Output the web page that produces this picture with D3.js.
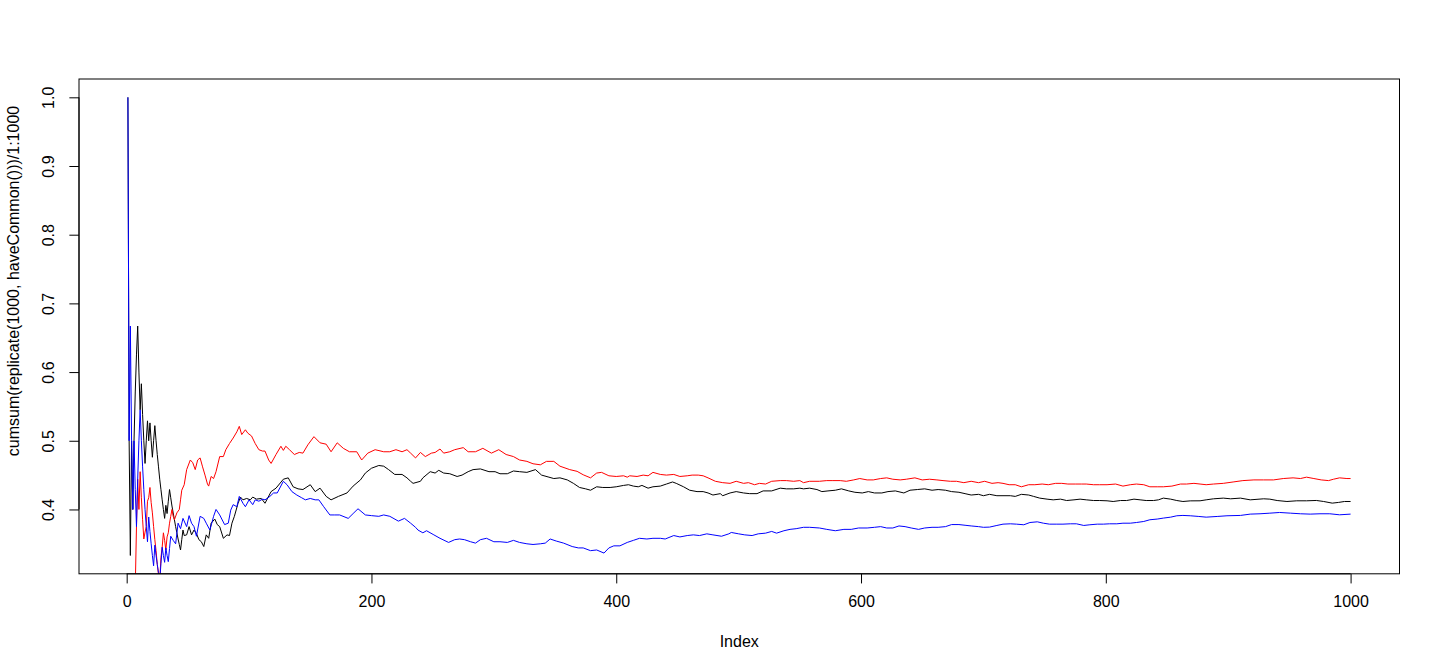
<!DOCTYPE html>
<html>
<head>
<meta charset="utf-8">
<script src="https://cdn.jsdelivr.net/npm/d3@7"></script>
<style>
  html, body { margin: 0; padding: 0; background: #ffffff; }
  svg { display: block; }
  text { font-family: "Liberation Sans", Arial, Helvetica, sans-serif; font-size: 16px; fill: #000; }
</style>
</head>
<body>
<svg id="chart" width="1440" height="672"></svg>
<script>
// ---------------- data ----------------
const xTicks = [0, 200, 400, 600, 800, 1000];
const yTicks = [0.4, 0.5, 0.6, 0.7, 0.8, 0.9, 1.0];
const xTitle = "Index";
const yTitle = "cumsum(replicate(1000, haveCommon()))/1:1000";

// [index, cumulative mean]
const seriesBlack = [
[1,1.0],[2,0.5],[3,0.333],[4,0.5],[5,0.4],[6,0.5],[7,0.571],[8,0.625],[9,0.667],[10,0.6],
[11,0.545],[12,0.583],[13,0.538],[14,0.5],[15,0.467],[16,0.5],[17,0.529],[18,0.5],[19,0.526],[20,0.5],
[21,0.476],[22,0.5],[23,0.522],[24,0.5],[25,0.48],[26,0.462],[27,0.444],[28,0.429],[29,0.414],[30,0.4],
[31,0.387],[32,0.406],[33,0.394],[34,0.412],[35,0.429],[36,0.417],[37,0.405],[38,0.395],[39,0.385],[40,0.375],
[41,0.366],[42,0.357],[43,0.349],[44,0.341],[45,0.356],[46,0.37],[47,0.362],[49,0.363],[51,0.375],[53,0.363],
[55,0.37],[57,0.365],[59,0.356],[61,0.353],[63,0.346],[65,0.363],[67,0.358],[69,0.38],[72,0.386],[74,0.378],
[76,0.375],[79,0.358],[82,0.363],[84,0.362],[86,0.38],[88,0.39],[91,0.409],[93,0.418],[95,0.414],[98,0.416],
[101,0.414],[103,0.418],[106,0.415],[110,0.416],[113,0.409],[118,0.426],[122,0.431],[128,0.444],[132,0.446],[136,0.433],
[140,0.43],[144,0.429],[150,0.436],[154,0.426],[158,0.431],[163,0.419],[167,0.414],[173,0.419],[180,0.424],[185,0.434],
[191,0.443],[195,0.453],[200,0.46],[206,0.464],[210,0.463],[214,0.458],[219,0.451],[225,0.451],[229,0.446],[232,0.441],
[234,0.438],[240,0.441],[242,0.446],[248,0.455],[252,0.453],[255,0.457],[259,0.453],[264,0.452],[270,0.448],[274,0.45],
[279,0.455],[283,0.458],[289,0.459],[296,0.455],[301,0.455],[305,0.452],[311,0.452],[316,0.456],[321,0.455],[327,0.454],
[334,0.458],[339,0.45],[345,0.447],[349,0.445],[354,0.446],[360,0.443],[365,0.438],[370,0.432],[375,0.43],[379,0.428],
[384,0.433],[389,0.432],[395,0.432],[400,0.433],[406,0.435],[410,0.436],[414,0.434],[418,0.433],[421,0.435],[426,0.431],
[430,0.433],[436,0.434],[441,0.437],[446,0.44],[449,0.438],[455,0.433],[460,0.428],[466,0.426],[471,0.426],[475,0.424],
[479,0.421],[485,0.423],[487,0.42],[493,0.424],[498,0.426],[504,0.424],[509,0.423],[515,0.423],[520,0.427],[527,0.427],
[534,0.431],[539,0.43],[545,0.43],[550,0.431],[553,0.43],[558,0.431],[564,0.429],[568,0.426],[573,0.427],[579,0.428],
[584,0.43],[590,0.427],[595,0.425],[601,0.424],[606,0.426],[611,0.424],[617,0.424],[622,0.426],[628,0.427],[635,0.424],
[640,0.428],[646,0.429],[652,0.43],[658,0.428],[663,0.429],[669,0.428],[674,0.426],[680,0.425],[685,0.423],[690,0.421],
[696,0.422],[700,0.42],[705,0.422],[711,0.42],[716,0.42],[722,0.42],[726,0.419],[731,0.422],[737,0.421],[741,0.419],
[746,0.4165],[752,0.415],[757,0.414],[763,0.415],[768,0.413],[774,0.414],[779,0.415],[784,0.414],[790,0.413],[795,0.413],
[801,0.4126],[806,0.4116],[812,0.413],[817,0.413],[823,0.415],[828,0.414],[833,0.413],[839,0.413],[843,0.414],[847,0.4165],
[853,0.415],[858,0.413],[863,0.4116],[869,0.4125],[877,0.4126],[882,0.414],[888,0.4155],[896,0.4165],[902,0.4155],[910,0.4165],
[918,0.414],[929,0.4155],[934,0.415],[940,0.413],[948,0.4116],[956,0.4126],[964,0.4126],[972,0.4131],[978,0.4116],[985,0.4092],
[990,0.4102],[995,0.4116],[1000,0.4116]
];

const seriesRed = [
[1,0],[2,0],[3,0],[4,0.25],[5,0.2],[6,0.167],[7,0.286],[8,0.375],[9,0.444],[10,0.4],
[11,0.455],[12,0.417],[13,0.385],[14,0.357],[15,0.367],[16,0.375],[17,0.412],[18,0.417],[19,0.432],[20,0.41],
[21,0.395],[22,0.375],[23,0.356],[24,0.34],[25,0.32],[26,0.305],[27,0.296],[28,0.33],[29,0.345],[30,0.366],
[31,0.355],[32,0.341],[33,0.36],[34,0.366],[35,0.38],[36,0.39],[37,0.4],[38,0.39],[39,0.385],[41,0.395],
[43,0.4],[44,0.414],[45,0.428],[47,0.436],[49,0.458],[52,0.472],[54,0.468],[56,0.458],[58,0.472],[60,0.475],
[62,0.462],[64,0.45],[66,0.437],[67,0.434],[69,0.448],[71,0.445],[73,0.455],[76,0.477],[79,0.477],[81,0.487],
[84,0.496],[87,0.504],[90,0.513],[92,0.521],[94,0.509],[97,0.516],[99,0.511],[102,0.507],[105,0.496],[108,0.487],
[111,0.485],[113,0.485],[116,0.472],[118,0.467],[122,0.48],[126,0.492],[128,0.486],[130,0.492],[133,0.487],[137,0.48],
[141,0.483],[144,0.482],[148,0.494],[153,0.506],[158,0.497],[163,0.495],[167,0.484],[172,0.497],[177,0.489],[182,0.484],
[188,0.484],[192,0.472],[197,0.482],[203,0.487],[210,0.484],[215,0.484],[220,0.487],[225,0.484],[229,0.487],[232,0.482],
[236,0.475],[240,0.483],[244,0.477],[249,0.482],[252,0.483],[256,0.488],[259,0.482],[264,0.484],[268,0.487],[275,0.49],
[279,0.484],[285,0.484],[291,0.489],[298,0.482],[304,0.487],[310,0.48],[316,0.477],[321,0.472],[327,0.47],[332,0.4665],
[338,0.465],[343,0.47],[349,0.47],[354,0.463],[362,0.458],[368,0.4555],[373,0.4505],[379,0.446],[384,0.453],[388,0.454],
[394,0.449],[400,0.448],[406,0.449],[409,0.447],[411,0.449],[417,0.448],[422,0.45],[426,0.449],[430,0.454],[436,0.451],
[441,0.45],[447,0.451],[452,0.448],[458,0.449],[462,0.45],[467,0.45],[471,0.449],[475,0.446],[481,0.441],[487,0.439],
[493,0.438],[498,0.441],[504,0.438],[508,0.439],[513,0.436],[517,0.438],[522,0.437],[527,0.441],[534,0.442],[539,0.442],
[545,0.441],[550,0.442],[553,0.439],[558,0.441],[566,0.441],[572,0.442],[577,0.442],[583,0.442],[588,0.441],[594,0.443],
[599,0.445],[605,0.443],[610,0.443],[616,0.445],[621,0.446],[626,0.444],[632,0.443],[637,0.444],[644,0.446],[650,0.443],
[656,0.444],[662,0.443],[667,0.442],[673,0.441],[678,0.441],[684,0.439],[690,0.441],[696,0.439],[701,0.441],[707,0.438],
[712,0.439],[716,0.438],[721,0.436],[726,0.436],[731,0.433],[737,0.436],[742,0.436],[748,0.437],[753,0.436],[759,0.438],
[764,0.438],[769,0.437],[775,0.437],[780,0.437],[784,0.437],[790,0.436],[795,0.436],[801,0.436],[808,0.437],[814,0.434],
[820,0.436],[825,0.437],[831,0.436],[836,0.433],[842,0.433],[847,0.433],[854,0.434],[861,0.437],[866,0.437],[872,0.438],
[877,0.437],[882,0.436],[888,0.437],[896,0.438],[904,0.44],[912,0.442],[921,0.443],[929,0.443],[937,0.443],[945,0.445],
[953,0.446],[959,0.445],[964,0.447],[970,0.445],[976,0.443],[982,0.442],[986,0.444],[991,0.446],[997,0.445],[1000,0.445]
];

const seriesBlue = [
[1,1.0],[2,0.5],[3,0.667],[4,0.5],[5,0.4],[6,0.5],[7,0.429],[8,0.375],[9,0.444],[10,0.5],
[11,0.545],[12,0.5],[13,0.462],[14,0.429],[15,0.4],[16,0.375],[17,0.353],[18,0.389],[19,0.368],[20,0.35],
[21,0.333],[22,0.318],[23,0.348],[24,0.333],[25,0.32],[26,0.308],[27,0.296],[28,0.321],[29,0.345],[30,0.333],
[31,0.323],[32,0.344],[33,0.333],[34,0.324],[35,0.343],[36,0.361],[38,0.355],[40,0.35],[42,0.38],[44,0.372],
[46,0.387],[49,0.375],[51,0.391],[53,0.38],[55,0.375],[57,0.361],[60,0.39],[63,0.387],[65,0.38],[68,0.37],
[71,0.39],[73,0.4],[76,0.392],[80,0.378],[83,0.38],[85,0.399],[87,0.407],[90,0.404],[92,0.419],[95,0.409],
[97,0.404],[100,0.414],[103,0.407],[105,0.414],[108,0.412],[111,0.415],[113,0.414],[117,0.419],[120,0.424],[123,0.424],
[128,0.441],[131,0.436],[135,0.426],[139,0.421],[143,0.417],[146,0.414],[150,0.416],[154,0.414],[157,0.414],[161,0.404],
[166,0.392],[170,0.392],[174,0.392],[181,0.387],[185,0.394],[189,0.401],[195,0.392],[200,0.391],[206,0.39],[210,0.392],
[215,0.39],[222,0.383],[227,0.387],[232,0.38],[236,0.374],[238,0.37],[242,0.366],[245,0.369],[251,0.363],[256,0.358],
[263,0.352],[268,0.356],[272,0.357],[276,0.356],[281,0.353],[285,0.351],[289,0.356],[294,0.358],[300,0.353],[305,0.353],
[311,0.352],[316,0.355],[321,0.352],[327,0.35],[332,0.349],[338,0.35],[342,0.351],[346,0.357],[351,0.354],[357,0.351],
[364,0.346],[369,0.344],[373,0.344],[379,0.34],[384,0.341],[390,0.3365],[394,0.344],[398,0.347],[403,0.347],[409,0.352],
[414,0.355],[419,0.358],[425,0.357],[430,0.358],[436,0.358],[440,0.357],[447,0.362],[452,0.36],[458,0.362],[463,0.363],
[468,0.362],[474,0.3645],[479,0.363],[486,0.361],[492,0.3645],[494,0.3665],[500,0.3645],[505,0.363],[511,0.362],[516,0.3645],
[522,0.3655],[527,0.368],[531,0.3655],[537,0.369],[542,0.371],[547,0.372],[553,0.374],[558,0.374],[566,0.373],[572,0.371],
[579,0.369],[586,0.371],[592,0.371],[598,0.373],[605,0.373],[611,0.374],[616,0.375],[621,0.373],[626,0.373],[631,0.376],
[636,0.375],[641,0.373],[647,0.371],[652,0.373],[658,0.374],[663,0.374],[669,0.375],[674,0.378],[680,0.378],[685,0.377],
[690,0.376],[696,0.375],[700,0.374],[705,0.3743],[711,0.3767],[716,0.3786],[722,0.3791],[727,0.3786],[733,0.3777],[738,0.381],
[744,0.382],[749,0.38],[754,0.3786],[760,0.3786],[765,0.3786],[771,0.3791],[776,0.3791],[782,0.3767],[787,0.3777],[793,0.3786],
[798,0.3786],[803,0.3791],[809,0.3791],[814,0.38],[820,0.38],[825,0.381],[831,0.3825],[836,0.385],[842,0.386],[847,0.3874],
[853,0.3888],[858,0.3908],[863,0.3913],[869,0.3908],[876,0.3898],[882,0.3888],[891,0.3898],[899,0.3908],[910,0.3913],[918,0.3932],
[926,0.3937],[934,0.3946],[942,0.3956],[951,0.3946],[959,0.3937],[967,0.3932],[975,0.3937],[983,0.3937],[991,0.3922],[1000,0.3932]
];

const seriesColors = ["#000000", "#ff0000", "#0000ff"];

// ---------------- layout ----------------
const W = 1440, H = 672;
const lineH = 19.27;                      // one margin line
const plot = { left: 79, top: 79, right: 1399.5, bottom: 573.8 };
const tickLen = 0.5 * lineH;

const svg = d3.select("#chart");

// R-style extended ranges (4% on each side), based on the first (plotted) series
const xExt = d3.extent(seriesBlack, d => d[0]);
const yExt = d3.extent(seriesBlack, d => d[1]);
const xPad = (xExt[1] - xExt[0]) * 0.04, yPad = (yExt[1] - yExt[0]) * 0.04;

const x = d3.scaleLinear().domain([xExt[0] - xPad, xExt[1] + xPad]).range([plot.left, plot.right]);
const y = d3.scaleLinear().domain([yExt[0] - yPad, yExt[1] + yPad]).range([plot.bottom, plot.top]);

// clip to plot region
svg.append("defs").append("clipPath").attr("id", "clip")
  .append("rect")
  .attr("x", plot.left).attr("y", plot.top)
  .attr("width", plot.right - plot.left).attr("height", plot.bottom - plot.top);

const line = d3.line().x(d => x(d[0])).y(d => y(d[1]));

const gLines = svg.append("g").attr("clip-path", "url(#clip)");
[seriesBlack, seriesRed, seriesBlue].forEach((s, i) => {
  gLines.append("path")
    .datum(s)
    .attr("d", line)
    .attr("fill", "none")
    .attr("stroke", seriesColors[i])
    .attr("stroke-width", 1)
    .attr("stroke-linejoin", "round");
});

// box
svg.append("rect")
  .attr("x", plot.left).attr("y", plot.top)
  .attr("width", plot.right - plot.left).attr("height", plot.bottom - plot.top)
  .attr("fill", "none").attr("stroke", "#000").attr("stroke-width", 1);

// x axis
const gx = svg.append("g")
  .attr("transform", `translate(0,${plot.bottom})`)
  .call(d3.axisBottom(x).tickValues(xTicks).tickFormat(d3.format("d"))
        .tickSize(tickLen).tickSizeOuter(0).tickPadding(12.5));
gx.select(".domain").attr("d", `M${x(xTicks[0])},0H${x(xTicks[xTicks.length - 1])}`);
gx.selectAll("text").style("font-family", null).attr("font-size", null);
gx.attr("font-family", null).attr("font-size", null);
gx.selectAll("line, path").attr("stroke", "#000");

// y axis
const gy = svg.append("g")
  .attr("transform", `translate(${plot.left},0)`)
  .call(d3.axisLeft(y).tickValues(yTicks).tickFormat(d3.format(".1f"))
        .tickSize(tickLen).tickSizeOuter(0));
gy.select(".domain").attr("d", `M0,${y(yTicks[0])}V${y(yTicks[yTicks.length - 1])}`);
gy.attr("font-family", null).attr("font-size", null);
gy.selectAll("line, path").attr("stroke", "#000");
gy.selectAll("text")
  .attr("x", null).attr("dy", null)
  .attr("text-anchor", "middle")
  .attr("transform", "translate(-25.5,0) rotate(-90)");

// axis titles
svg.append("text")
  .attr("x", (plot.left + plot.right) / 2)
  .attr("y", plot.bottom + 3.8 * lineH)
  .attr("text-anchor", "middle")
  .text(xTitle);

svg.append("text")
  .attr("transform", `translate(19,281) rotate(-90)`)
  .attr("text-anchor", "middle")
  .text(yTitle);
</script>
</body>
</html>
